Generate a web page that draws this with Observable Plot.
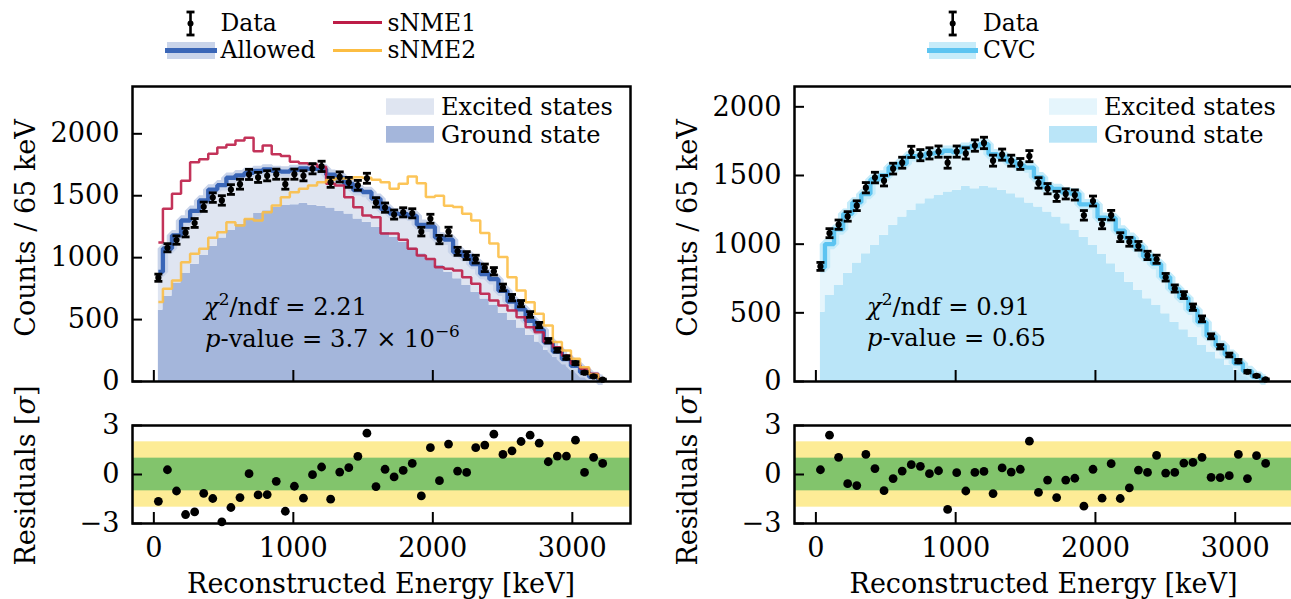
<!DOCTYPE html>
<html><head><meta charset="utf-8">
<script src="https://cdn.jsdelivr.net/npm/d3@7"></script>
<script src="https://cdn.jsdelivr.net/npm/@observablehq/plot@0.6"></script>
<style>
body{margin:0;background:#fff;}
#root{position:relative;width:1291px;height:599px;overflow:hidden;background:#fff;}
#root svg{position:absolute;left:0;top:0;max-width:none !important;overflow:visible;}
</style></head><body><div id="root"></div>
<script>
// ---------- data ----------
const energy = [32.5, 97.5, 162.5, 227.5, 292.5, 357.5, 422.5, 487.5, 552.5, 617.5, 682.5, 747.5, 812.5, 877.5, 942.5, 1007.5, 1072.5, 1137.5, 1202.5, 1267.5, 1332.5, 1397.5, 1462.5, 1527.5, 1592.5, 1657.5, 1722.5, 1787.5, 1852.5, 1917.5, 1982.5, 2047.5, 2112.5, 2177.5, 2242.5, 2307.5, 2372.5, 2437.5, 2502.5, 2567.5, 2632.5, 2697.5, 2762.5, 2827.5, 2892.5, 2957.5, 3022.5, 3087.5, 3152.5, 3217.5];
const counts = [838, 1080, 1142, 1202, 1280, 1411, 1485, 1462, 1550, 1593, 1672, 1648, 1661, 1674, 1593, 1674, 1661, 1718, 1737, 1608, 1652, 1608, 1584, 1641, 1446, 1404, 1348, 1366, 1358, 1210, 1314, 1146, 1211, 1051, 1017, 988, 918, 890, 759, 677, 629, 541, 456, 329, 253, 193, 148, 71, 41, 15];
const allowedTotal = [885, 1074, 1180, 1300, 1378, 1462, 1550, 1585, 1645, 1665, 1685, 1700, 1712, 1700, 1695, 1708, 1720, 1717, 1715, 1670, 1644, 1595, 1545, 1530, 1476, 1395, 1356, 1352, 1338, 1265, 1250, 1162, 1145, 1045, 1012, 948, 868, 826, 732, 645, 582, 490, 417, 316, 242, 180, 126, 74, 37, 15];
const allowedGround = [576, 688, 796, 872, 946, 1018, 1092, 1158, 1220, 1268, 1314, 1357, 1378, 1405, 1421, 1428, 1440, 1423, 1415, 1400, 1372, 1353, 1313, 1286, 1246, 1206, 1165, 1125, 1080, 1031, 982, 937, 883, 829, 775, 721, 667, 614, 552, 492, 433, 371, 318, 250, 196, 143, 102, 62, 30, 8];
const sNME1 = [1122, 1394, 1515, 1620, 1771, 1795, 1838, 1890, 1911, 1946, 1968, 1860, 1905, 1835, 1820, 1775, 1763, 1755, 1735, 1596, 1583, 1488, 1408, 1340, 1327, 1195, 1195, 1144, 1071, 1017, 990, 923, 910, 896, 842, 789, 708, 654, 614, 573, 519, 438, 398, 318, 277, 210, 143, 102, 62, 22];
const sNME2 = [641, 748, 815, 963, 1031, 1071, 1160, 1206, 1286, 1260, 1313, 1300, 1367, 1421, 1488, 1529, 1556, 1582, 1609, 1629, 1640, 1640, 1650, 1645, 1630, 1609, 1556, 1596, 1655, 1600, 1490, 1500, 1420, 1410, 1354, 1300, 1200, 1115, 1005, 842, 735, 640, 547, 452, 318, 250, 183, 116, 56, 22];
const residAllowed = [-1.64, 0.29, -1.01, -2.45, -2.29, -1.15, -1.47, -2.9, -2.02, -1.41, 0.05, -1.25, -1.23, -0.42, -2.25, -0.72, -1.45, -0.01, 0.46, -1.51, 0.15, 0.42, 1.11, 2.53, -0.74, 0.32, -0.15, 0.25, 0.68, -1.31, 1.64, -0.38, 1.86, 0.21, 0.13, 1.64, 1.8, 2.47, 1.23, 1.45, 2.02, 2.41, 1.92, 0.78, 1.13, 1.13, 2.1, 0.13, 1.05, 0.68];
const cvcTotal = [830, 1001, 1107, 1221, 1304, 1365, 1471, 1500, 1560, 1585, 1640, 1640, 1659, 1665, 1680, 1670, 1702, 1713, 1729, 1655, 1636, 1602, 1571, 1558, 1487, 1417, 1402, 1378, 1368, 1290, 1290, 1193, 1189, 1099, 1046, 982, 910, 856, 760, 675, 610, 523, 433, 331, 260, 194, 133, 76, 35, 15];
const cvcGround = [505, 627, 699, 789, 862, 930, 991, 1064, 1137, 1197, 1246, 1294, 1331, 1355, 1379, 1392, 1421, 1404, 1421, 1411, 1392, 1367, 1338, 1299, 1270, 1234, 1197, 1149, 1100, 1051, 991, 925, 857, 796, 723, 663, 602, 554, 493, 432, 376, 323, 262, 214, 165, 117, 80, 44, 19, 7];
const residCVC = [0.29, 2.41, 1.05, -0.56, -0.68, 1.23, 0.36, -0.99, -0.25, 0.21, 0.6, 0.5, 0.05, 0.23, -2.14, 0.11, -1.01, 0.13, 0.19, -1.17, 0.4, 0.15, 0.32, 2.04, -1.09, -0.34, -1.41, -0.34, -0.23, -1.94, 0.32, -1.45, 0.66, -1.47, -0.82, 0.27, 0.13, 1.17, 0.09, 0.13, 0.7, 0.74, 1.05, -0.17, -0.19, -0.07, 1.23, -0.25, 1.15, 0.68];
const xTicks = [0, 1000, 2000, 3000];
const countTicks = [0, 500, 1000, 1500, 2000];
const residTicks = [-3, 0, 3];
const sigmaBands = [{lo: -2, hi: 2}, {lo: -1, hi: 1}];

// ---------- style ----------
const FONT = "DejaVu Serif";
const C = {
  groundL: "#a4b6db", excitedL: "#dfe5f1", bandL: "#c9d4ea", allowed: "#3a66b7",
  s1: "#bd1d47", s2: "#fcbd42",
  groundR: "#bae5f8", excitedR: "#e5f5fc", bandR: "#c6ecfa", cvc: "#5cc4f1",
  sig2: "#fdec96", sig1: "#82c46c"
};
const xDomain = [-153, 3417];
const G = {mainTop: 86, mainBottom: 381, resTop: 425, resBottom: 523, H: 599, W: 1300,
  L: {left: 132, right: 630}, R: {left: 794, right: 1293}};
const plain = d => d < 0 ? "\u2212" + String(-d) : String(d);

// font-size calibration from measured reference widths
const meas = d3.select("body").append("svg").attr("width", 10).attr("height", 10)
  .style("position", "absolute").style("visibility", "hidden");
function addParts(sel, parts, size) {
  parts.forEach((p, k) => {
    const [s, st] = Array.isArray(p) ? p : [p, {}];
    const ts = sel.append("tspan").text(s);
    if (st.italic) ts.attr("font-style", "italic");
    if (st.sup) { ts.attr("font-size", size * 0.7).attr("dy", -0.42 * size); }
    if (k > 0) {
      const prev = parts[k - 1];
      if (Array.isArray(prev) && prev[1].sup && !st.sup) ts.attr("dy", 0.42 * size);
    }
  });
}
function fit(parts, target, fallback) {
  const t = meas.append("text").attr("font-family", FONT).attr("font-size", 100);
  addParts(t, parts, 100);
  const w = t.node().getComputedTextLength();
  t.remove();
  const s = 100 * target / w;
  return (isFinite(s) && s > 14 && s < 34) ? s : fallback;
}
const FS = {
  tick: fit(["2000"], 69, 25),
  label: fit(["Reconstructed Energy [keV]"], 388, 25),
  legend: fit(["Allowed"], 95, 23),
  inlegend: fit(["Excited states"], 172, 24),
  annot: fit([["p", {italic: true}], "-value = 0.65"], 179, 23)
};
meas.remove();

// ---------- tables ----------
const tL = energy.map((e, i) => ({e, n: counts[i], err: Math.sqrt(counts[i]), total: allowedTotal[i], ground: allowedGround[i], s1: sNME1[i], s2: sNME2[i], r: residAllowed[i]}));
const tR = energy.map((e, i) => ({e, n: counts[i], err: Math.sqrt(counts[i]), total: cvcTotal[i], ground: cvcGround[i], r: residCVC[i]}));

const cap = {draw(ctx) { ctx.moveTo(-4, 0); ctx.lineTo(4, 0); }};

function dataMarks(t) {
  return [
    Plot.ruleX(t, {x: "e", y1: d => d.n - d.err, y2: d => d.n + d.err, stroke: "black", strokeWidth: 2.6}),
    Plot.dot(t, {x: "e", y: d => d.n + d.err, symbol: cap, r: 3, stroke: "black", fill: "none", strokeWidth: 2.8}),
    Plot.dot(t, {x: "e", y: d => d.n - d.err, symbol: cap, r: 3, stroke: "black", fill: "none", strokeWidth: 2.8}),
    Plot.dot(t, {x: "e", y: "n", r: 3.1, fill: "black", stroke: "none"})
  ];
}
function axesMarks(yt, xLabels) {
  const m = [
    Plot.axisY(yt, {anchor: "left", tickSize: 0, tickPadding: 13, tickFormat: plain, label: null}),
    Plot.axisY(yt, {anchor: "left", tickSize: 10, dx: 10, tickFormat: () => "", label: null, strokeWidth: 2}),
    Plot.axisX(xTicks, {anchor: "bottom", tickSize: 11, dy: -11, tickFormat: () => "", label: null, strokeWidth: 2})
  ];
  if (xLabels) m.push(Plot.axisX(xTicks, {anchor: "bottom", tickSize: 0, tickPadding: 14.5, tickFormat: plain, label: null}));
  m.push(Plot.frame({stroke: "black", strokeWidth: 2.5}));
  return m;
}
function base(side, top, bottom, ydom) {
  return {
    width: G.W, height: G.H,
    marginLeft: side.left, marginRight: G.W - side.right,
    marginTop: top, marginBottom: G.H - bottom,
    x: {domain: xDomain}, y: {domain: ydom},
    style: {fontFamily: FONT, fontSize: FS.tick + "px", background: "none", color: "black"}
  };
}
function stepLine(t, y, stroke, w, extra = {}) {
  return Plot.lineY(t, {x: "e", y, curve: "step", stroke, strokeWidth: w, strokeLinejoin: "miter", strokeLinecap: "butt", ...extra});
}

const root = document.getElementById("root");

// left main
root.append(Plot.plot({
  ...base(G.L, G.mainTop, G.mainBottom, [0, 2382]),
  marks: [
    Plot.areaY(tL, {x: "e", y1: 0, y2: "ground", curve: "step", fill: C.groundL}),
    Plot.areaY(tL, {x: "e", y1: "ground", y2: "total", curve: "step", fill: C.excitedL}),
    stepLine(tL, "total", C.bandL, 10.5),
    stepLine(tL, "total", C.allowed, 4.3),
    stepLine(tL, "s1", C.s1, 2.5, {strokeOpacity: 0.9}),
    stepLine(tL, "s2", C.s2, 2.5, {strokeOpacity: 0.88}),
    ...dataMarks(tL),
    ...axesMarks(countTicks, false)
  ]
}));
// right main
root.append(Plot.plot({
  ...base(G.R, G.mainTop, G.mainBottom, [0, 2148]),
  marks: [
    Plot.areaY(tR, {x: "e", y1: 0, y2: "ground", curve: "step", fill: C.groundR}),
    Plot.areaY(tR, {x: "e", y1: "ground", y2: "total", curve: "step", fill: C.excitedR}),
    stepLine(tR, "total", C.bandR, 10.5),
    stepLine(tR, "total", C.cvc, 4.3),
    ...dataMarks(tR),
    ...axesMarks(countTicks, false)
  ]
}));
// residuals
function residPlot(side, t) {
  return Plot.plot({
    ...base(side, G.resTop, G.resBottom, [-3, 3]),
    marks: [
      Plot.rect([sigmaBands[0]], {x1: xDomain[0], x2: xDomain[1], y1: "lo", y2: "hi", fill: C.sig2}),
      Plot.rect([sigmaBands[1]], {x1: xDomain[0], x2: xDomain[1], y1: "lo", y2: "hi", fill: C.sig1}),
      Plot.dot(t, {x: "e", y: "r", r: 4.4, fill: "black", stroke: "none"}),
      ...axesMarks(residTicks, true)
    ]
  });
}
root.append(residPlot(G.L, tL));
root.append(residPlot(G.R, tR));

// ---------- overlay: labels, legends, annotations ----------
const ov = d3.select(root).append("svg").attr("width", 1291).attr("height", 599)
  .attr("font-family", FONT).attr("fill", "black");
function txt(x, y, parts, size, anchor = "start", rot = 0) {
  const t = ov.append("text").attr("x", x).attr("y", y).attr("font-size", size).attr("text-anchor", anchor);
  if (rot) t.attr("transform", `rotate(${rot},${x},${y})`);
  addParts(t, parts, size);
  return t;
}
// axis labels
[34.5, 696.5].forEach(bx => {
  txt(bx, 228, ["Counts / 65 keV"], FS.label, "middle", -90);
  txt(bx, 475.5, ["Residuals [", ["σ", {italic: true}], "]"], FS.label, "middle", -90);
});
txt(381, 593, ["Reconstructed Energy [keV]"], FS.label, "middle");
txt(1043.5, 593, ["Reconstructed Energy [keV]"], FS.label, "middle");

// error-bar legend icon
function errIcon(x) {
  ov.append("line").attr("x1", x).attr("x2", x).attr("y1", 12).attr("y2", 35).attr("stroke", "black").attr("stroke-width", 2.6);
  [12, 35].forEach(y => ov.append("line").attr("x1", x - 4).attr("x2", x + 4).attr("y1", y).attr("y2", y).attr("stroke", "black").attr("stroke-width", 2.8));
  ov.append("circle").attr("cx", x).attr("cy", 23.5).attr("r", 3).attr("fill", "black");
}
function lineIcon(x1, x2, y, color, w, band) {
  if (band) ov.append("rect").attr("x", x1 + 2).attr("y", y - 8.5).attr("width", x2 - x1 - 4).attr("height", 17).attr("fill", band);
  ov.append("line").attr("x1", x1).attr("x2", x2).attr("y1", y).attr("y2", y).attr("stroke", color).attr("stroke-width", w);
}
// left legend
errIcon(190.5);
txt(220.5, 30.7, ["Data"], FS.legend);
lineIcon(165, 217, 50.5, C.allowed, 5, C.bandL);
txt(220.5, 58.3, ["Allowed"], FS.legend);
lineIcon(333, 382, 22.5, C.s1, 3);
txt(387.5, 30.7, ["sNME1"], FS.legend);
lineIcon(333, 382, 50.5, C.s2, 3);
txt(387.5, 58.3, ["sNME2"], FS.legend);
// right legend
errIcon(952.7);
txt(983, 30.7, ["Data"], FS.legend);
lineIcon(927, 978, 50.5, C.cvc, 5, C.bandR);
txt(983, 58.3, ["CVC"], FS.legend);

// in-plot legends
function stackLegend(x, exc, gr) {
  ov.append("rect").attr("x", x).attr("y", 98.3).attr("width", 48).attr("height", 16.5).attr("fill", exc);
  ov.append("rect").attr("x", x).attr("y", 126).attr("width", 48).attr("height", 16.7).attr("fill", gr);
  txt(x + 55, 115, ["Excited states"], FS.inlegend);
  txt(x + 55, 142.7, ["Ground state"], FS.inlegend);
}
stackLegend(386, C.excitedL, C.groundL);
stackLegend(1049, C.excitedR, C.groundR);

// fit annotations
txt(204, 315, [["χ", {italic: true}], ["2", {sup: true}], "/ndf = 2.21"], FS.annot);
txt(205, 347, [["p", {italic: true}], "-value = 3.7 × 10", ["−6", {sup: true}]], FS.annot);
txt(867, 315, [["χ", {italic: true}], ["2", {sup: true}], "/ndf = 0.91"], FS.annot);
txt(867, 346, [["p", {italic: true}], "-value = 0.65"], FS.annot);
</script></body></html>
